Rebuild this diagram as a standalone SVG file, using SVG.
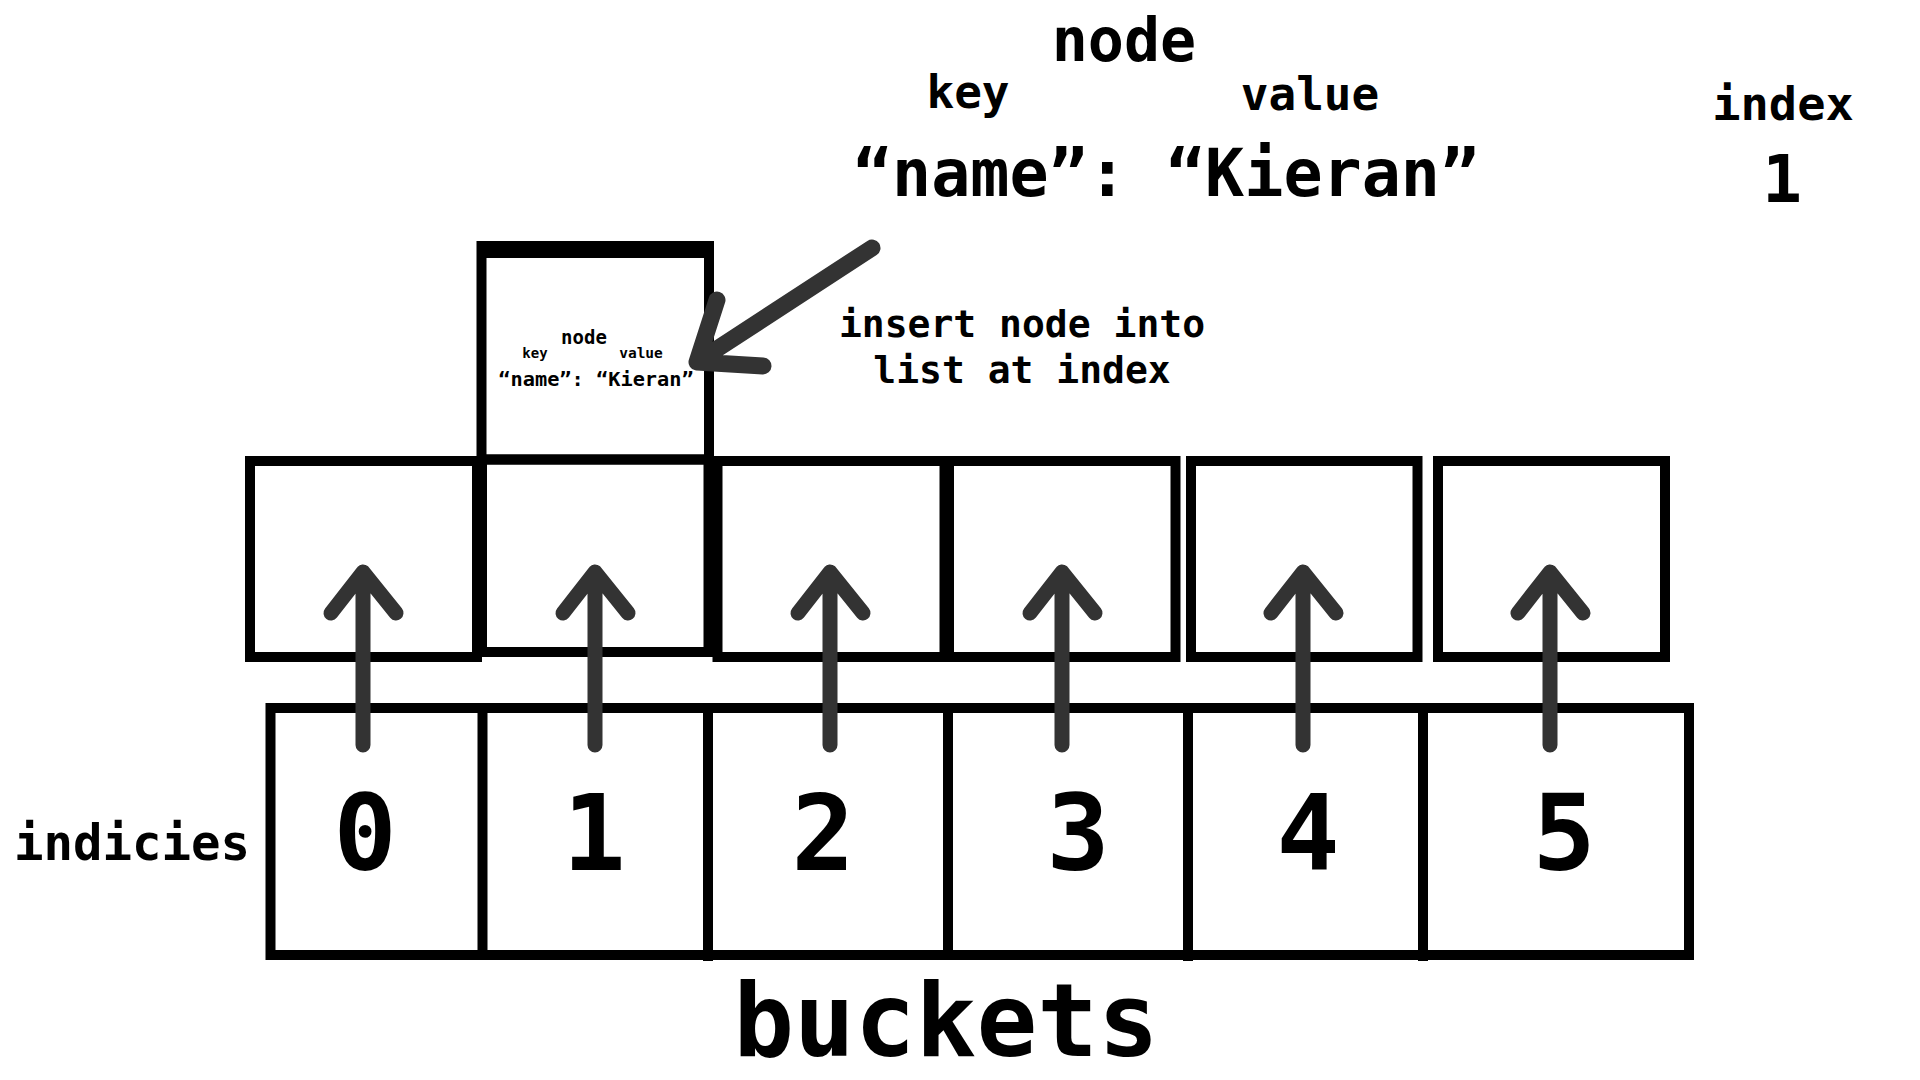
<svg xmlns="http://www.w3.org/2000/svg" width="1920" height="1080" viewBox="0 0 1920 1080">
  <style>
    .box { fill: none; stroke: #000; stroke-width: 10; }
    .ln { stroke: #000; stroke-width: 10; fill: none; }
    .t { font-family: "DejaVu Sans Mono", "Liberation Mono", monospace; font-weight: bold; fill: #000; text-anchor: middle; }
    .arr { fill: none; stroke: #333; stroke-width: 15; stroke-linecap: round; stroke-linejoin: round; }
    .darr { fill: none; stroke: #333; stroke-width: 17; stroke-linecap: round; stroke-linejoin: round; }
  </style>
  <rect width="1920" height="1080" fill="#fff"/>

  <!-- top annotation -->
  <g id="node-label">
    <text class="t" x="1124" y="61" font-size="60">node</text>
    <text class="t" x="968" y="108" font-size="46">key</text>
    <text class="t" x="1310" y="110" font-size="46">value</text>
    <text class="t" x="1166" y="196" font-size="65">“name”: “Kieran”</text>
  </g>
  <g id="index-label">
    <text class="t" x="1783" y="120" font-size="47">index</text>
    <text class="t" x="1782" y="202" font-size="66">1</text>
  </g>
  <g id="insert-label">
    <text class="t" x="1022" y="337" font-size="38">insert node into</text>
    <text class="t" x="1022" y="383" font-size="38">list at index</text>
  </g>

  <!-- inserted node box -->
  <g id="node-box">
    <rect class="box" x="481.5" y="246" width="227.5" height="213.5"/>
    <line class="ln" x1="477" y1="253" x2="714" y2="253"/>
    <text class="t" x="584" y="344" font-size="19">node</text>
    <text class="t" x="535" y="358" font-size="14">key</text>
    <text class="t" x="641" y="358" font-size="14.5">value</text>
    <text class="t" x="596" y="386" font-size="20.3">“name”: “Kieran”</text>
  </g>

  <!-- list head boxes (middle row) -->
  <g id="list-0"><rect class="box" x="250" y="461" width="227" height="196"/></g>
  <g id="list-1"><rect class="box" x="482" y="459.5" width="226.5" height="192.5"/></g>
  <g id="list-2"><rect class="box" x="717.5" y="461" width="227" height="196"/></g>
  <g id="list-3"><rect class="box" x="949" y="461" width="226.5" height="196"/></g>
  <g id="list-4"><rect class="box" x="1191" y="461" width="226.5" height="196"/></g>
  <g id="list-5"><rect class="box" x="1438" y="461" width="227" height="196"/></g>

  <!-- bucket array -->
  <g id="buckets">
    <rect class="box" x="270.5" y="708" width="1418.5" height="247"/>
    <line class="ln" x1="482.5" y1="708" x2="482.5" y2="955"/>
    <line class="ln" x1="708" y1="708" x2="708" y2="961"/>
    <line class="ln" x1="948" y1="708" x2="948" y2="955"/>
    <line class="ln" x1="1188" y1="708" x2="1188" y2="961"/>
    <line class="ln" x1="1423" y1="708" x2="1423" y2="961"/>
  </g>
  <g id="bucket-0"><text class="t" x="365" y="870" font-size="105">0</text></g>
  <g id="bucket-1"><text class="t" x="594" y="870" font-size="105">1</text></g>
  <g id="bucket-2"><text class="t" x="823" y="870" font-size="105">2</text></g>
  <g id="bucket-3"><text class="t" x="1078" y="870" font-size="105">3</text></g>
  <g id="bucket-4"><text class="t" x="1308" y="870" font-size="105">4</text></g>
  <g id="bucket-5"><text class="t" x="1564" y="870" font-size="105">5</text></g>

  <g id="indicies-label"><text class="t" x="132" y="860" font-size="49">indicies</text></g>
  <g id="buckets-label"><text class="t" x="946" y="1056" font-size="101">buckets</text></g>

  <!-- connectors -->
  <g id="connectors">
    <path class="arr" d="M363 745 L363 572 M331 613 L363 572 L396 613"/>
    <path class="arr" d="M595 745 L595 572 M563 613 L595 572 L628 613"/>
    <path class="arr" d="M830 745 L830 572 M798 613 L830 572 L863 613"/>
    <path class="arr" d="M1062 745 L1062 572 M1030 613 L1062 572 L1095 613"/>
    <path class="arr" d="M1303 745 L1303 572 M1271 613 L1303 572 L1336 613"/>
    <path class="arr" d="M1550 745 L1550 572 M1518 613 L1550 572 L1583 613"/>
    <path class="darr" d="M872 248 L697 362 M717 300 L697 362 L763 366"/>
  </g>
</svg>
